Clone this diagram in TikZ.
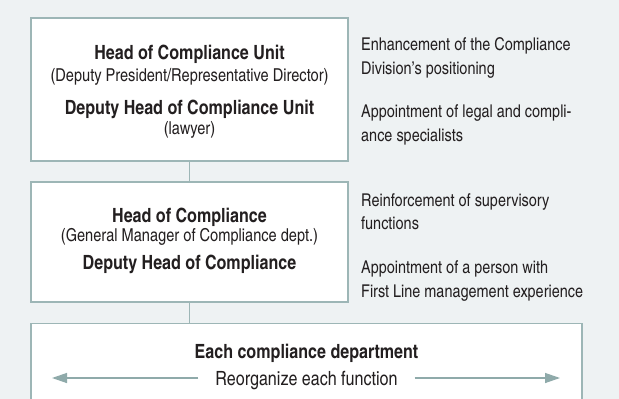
\documentclass[tikz,border=0pt]{standalone}
\usepackage{fontspec}
\setmainfont{texgyreheroscn}[Extension=.otf, UprightFont=*-regular, BoldFont=*-bold, ItalicFont=*-italic, BoldItalicFont=*-bolditalic]
\usetikzlibrary{arrows.meta}
\definecolor{bgc}{HTML}{EEF2F3}
\definecolor{edgec}{HTML}{9DB6B6}
\definecolor{txtc}{HTML}{231F20}
\definecolor{arrc}{HTML}{8FAAAA}
\tikzset{
  box/.style={draw=edgec, line width=1.4pt, fill=white, inner sep=0pt},
  conn/.style={draw=edgec, line width=1.4pt},
  ttl/.style={font=\fontsize{19.6}{22}\selectfont\bfseries, text=txtc, anchor=base, inner sep=0pt},
  sub/.style={font=\fontsize{17.8}{20}\selectfont, text=txtc, anchor=base, inner sep=0pt},
  side/.style={font=\fontsize{17.6}{20}\selectfont, text=txtc, anchor=base west, inner sep=0pt},
  arr/.style={draw=arrc, line width=1.3pt, -{Triangle[length=15pt,width=10pt]}},
}
\begin{document}
\begin{tikzpicture}[x=1pt,y=-1pt]
\useasboundingbox[fill=bgc] (0,0) rectangle (619,399);
% boxes
\node[box, minimum width=317pt, minimum height=143pt] (b1) at (189.5,89.5) {};
\node[box, minimum width=317pt, minimum height=120pt] (b2) at (189.5,242) {};
\node[box, minimum width=551pt, minimum height=120pt, anchor=north] (b3) at (306.5,323) {};
% connectors
\draw[conn] (b1.south) -- (b2.north);
\draw[conn] (b2.south) -- (b2.south |- b3.north);
% box 1 text
\node[ttl] (t1) at (189.5,59) {Head of Compliance Unit};
\node[sub] (t2) at (189.5,81) {(Deputy President/Representative Director)};
\node[ttl] (t3) at (189.5,114) {Deputy Head of Compliance Unit};
\node[sub] (t4) at (189.5,134) {(lawyer)};
% box 2 text
\node[ttl] (t5) at (189.5,222) {Head of Compliance};
\node[sub] (t6) at (189.5,241) {(General Manager of Compliance dept.)};
\node[ttl] (t7) at (189.5,269) {Deputy Head of Compliance};
% box 3 text
\node[ttl] (t8) at (306.5,358) {Each compliance department};
\node[sub, font=\fontsize{19.6}{22}\selectfont, inner xsep=17pt] (reorg) at (306.5,385) {Reorganize each function};
\coordinate (la) at (52,378);
\coordinate (ra) at (560,378);
\draw[arr] (reorg.west |- la) -- (la);
\draw[arr] (reorg.east |- ra) -- (ra);
% side texts
\node[side] (s1) at (361,50) {Enhancement of the Compliance};
\node[side] (s2) at (361,74) {Division’s positioning};
\node[side] (s3) at (361,117) {Appointment of legal and compli-};
\node[side] (s4) at (361,141) {ance specialists};
\node[side] (s5) at (361,206) {Reinforcement of supervisory};
\node[side] (s6) at (361,229) {functions};
\node[side] (s7) at (361,273) {Appointment of a person with};
\node[side] (s8) at (361,297) {First Line management experience};
\end{tikzpicture}
\end{document}
